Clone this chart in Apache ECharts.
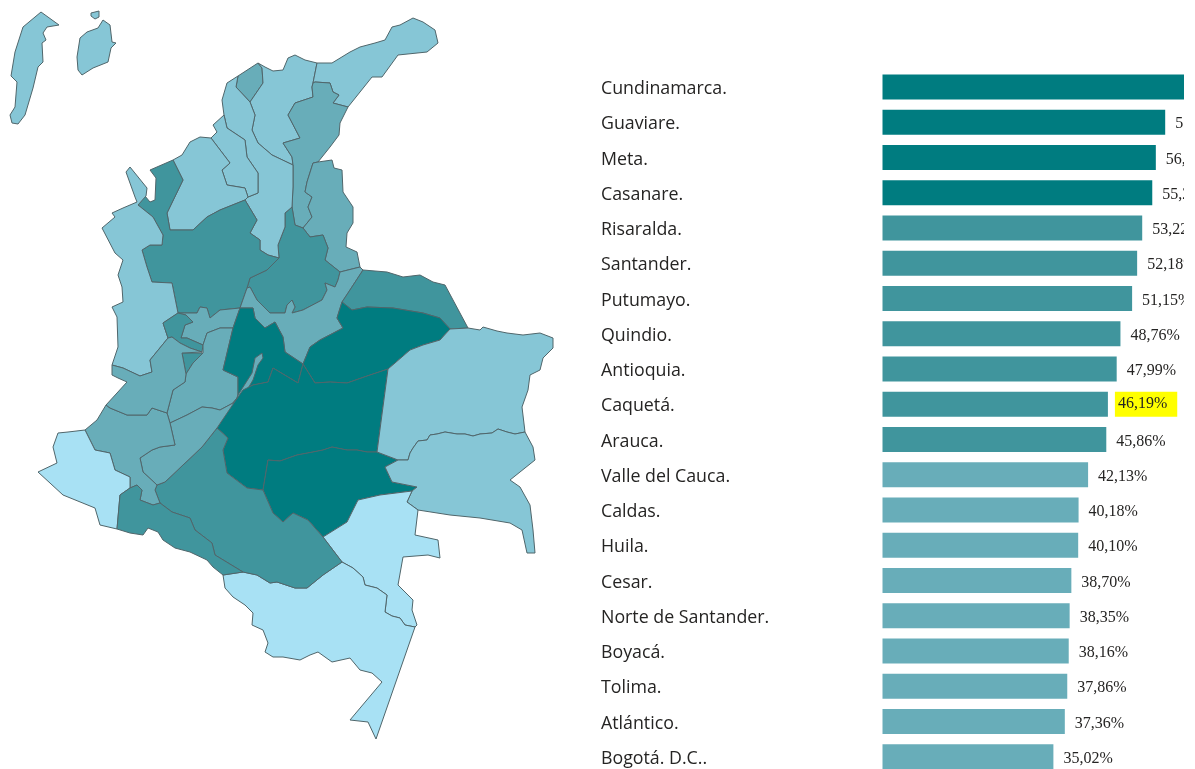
<!DOCTYPE html>
<html>
<head>
<meta charset="utf-8">
<title>Colombia</title>
<script src="https://cdn.jsdelivr.net/npm/echarts@6/dist/echarts.min.js"></script>
<style>
  html, body { margin: 0; background: #fff; }
  #main { width: 1184px; height: 769px; }
</style>
</head>
<body>
<div id="main"></div>
<script>
const categories = ['Cundinamarca.', 'Guaviare.', 'Meta.', 'Casanare.', 'Risaralda.', 'Santander.', 'Putumayo.',
  'Quindio.', 'Antioquia.', 'Caquetá.', 'Arauca.', 'Valle del Cauca.', 'Caldas.', 'Huila.', 'Cesar.',
  'Norte de Santander.', 'Boyacá.', 'Tolima.', 'Atlántico.', 'Bogotá. D.C..'];
const values = [64.0, 57.93, 56.01, 55.28, 53.22, 52.18, 51.15, 48.76, 47.99, 46.19, 45.86, 42.13, 40.18, 40.10,
  38.70, 38.35, 38.16, 37.86, 37.36, 35.02];

// departments on the map that the bar list leaves out, values only estimated from their shade
const otherDepts = ['San Andrés', 'Magdalena', 'La Guajira', 'Bolívar', 'Sucre', 'Córdoba', 'Chocó', 'Vichada',
  'Guainía', 'Cauca', 'Nariño', 'Vaupés', 'Amazonas'];
const otherValues = [30, 33, 30, 33, 32, 31, 28, 25, 24, 37, 15, 12, 10];

const highlighted = 'Caquetá.';

// bins of the shared colour scale
const binLimits = [20, 35, 45, 55];
const binColors = ['#a8e1f4', '#86c6d6', '#68adb9', '#40959d', '#007c80'];

// department outlines, in page pixels
const outlines = {
  'San Andrés': [
    [[41,12],[59,25],[47,27],[43,33],[46,40],[42,43],[43,62],[38,67],[33,88],[25,115],[18,124],[12,123],[10,115],[15,107],[17,82],[11,76],[15,52],[23,27]],
    [[103,20],[110,25],[112,42],[116,43],[111,48],[108,62],[93,68],[82,75],[78,70],[77,57],[80,38],[87,32],[98,28]],
    [[91,13],[99,11],[99,17],[95,19],[91,16]]
  ],
  'Atlántico.': [[[258,63],[262,68],[263,83],[250,102],[236,87],[238,76]]],
  'Magdalena': [[[258,63],[265,67],[273,71],[283,70],[288,58],[295,55],[305,60],[317,63],[313,83],[312,87],[313,97],[295,103],[288,115],[300,138],[283,143],[292,157],[293,165],[272,155],[258,143],[252,130],[255,115],[250,102],[263,83],[262,68]]],
  'La Guajira': [[[317,63],[332,63],[350,52],[360,47],[375,43],[385,40],[392,27],[400,25],[413,18],[423,22],[435,30],[438,43],[427,52],[398,55],[382,77],[372,77],[348,107],[333,103],[339,95],[333,92],[330,83],[315,82],[313,83]]],
  'Cesar.': [[[313,83],[315,82],[330,83],[333,92],[339,95],[333,103],[348,107],[340,123],[339,135],[330,147],[318,162],[313,163],[307,182],[305,192],[312,197],[308,207],[312,217],[303,228],[295,225],[292,207],[293,187],[293,165],[292,157],[283,143],[300,138],[288,115],[295,103],[313,97],[312,87]]],
  'Norte de Santander.': [[[318,162],[332,160],[334,168],[342,170],[343,192],[353,207],[353,223],[347,233],[346,247],[357,252],[360,267],[340,272],[325,260],[328,248],[323,235],[310,237],[303,228],[312,217],[308,207],[312,197],[305,192],[307,182],[313,163]]],
  'Santander.': [[[292,207],[295,225],[303,228],[310,237],[323,235],[328,248],[325,260],[340,272],[338,280],[335,287],[325,283],[327,290],[322,300],[303,310],[292,313],[295,307],[292,300],[287,305],[285,313],[270,313],[257,300],[250,287],[247,288],[250,278],[267,270],[279,258],[278,245],[285,227],[285,213]]],
  'Bolívar': [[[238,76],[227,83],[222,100],[224,115],[227,128],[245,140],[247,157],[258,173],[258,193],[248,197],[245,200],[257,220],[250,233],[260,240],[260,250],[268,255],[279,258],[278,245],[285,227],[285,213],[292,207],[293,187],[293,165],[272,155],[258,143],[252,130],[255,115],[250,102],[236,87]]],
  'Sucre': [[[211,138],[217,132],[213,125],[224,115],[227,128],[245,140],[247,157],[258,173],[258,193],[248,197],[245,188],[227,185],[222,170],[230,163]]],
  'Córdoba': [[[173,160],[182,155],[190,142],[200,137],[211,138],[230,163],[222,170],[227,185],[245,188],[248,197],[245,200],[220,210],[207,217],[193,230],[170,230],[167,213],[183,180]]],
  'Antioquia.': [[[173,160],[183,180],[167,213],[170,230],[193,230],[207,217],[220,210],[245,200],[257,220],[250,233],[260,240],[260,250],[268,255],[279,258],[267,270],[250,278],[247,288],[240,308],[220,310],[210,318],[207,308],[200,307],[197,313],[178,313],[172,283],[152,282],[147,267],[142,250],[150,245],[162,245],[163,235],[153,217],[138,205],[145,196],[150,202],[155,200],[156,178],[150,170]]],
  'Chocó': [[[126,172],[130,167],[147,188],[146,196],[138,205],[153,217],[163,235],[162,245],[150,245],[142,250],[147,267],[152,282],[172,283],[178,313],[163,323],[168,338],[150,360],[152,372],[140,376],[123,368],[112,365],[118,347],[117,317],[112,307],[123,302],[122,287],[118,275],[123,260],[115,253],[102,228],[115,217],[112,213],[123,208],[137,202],[135,197]]],
  'Caldas.': [[[178,313],[197,313],[200,307],[207,308],[210,318],[220,310],[240,308],[233,328],[220,328],[207,333],[203,345],[187,338],[181,338],[185,325],[193,322],[186,315]]],
  'Risaralda.': [[[163,323],[178,313],[186,315],[193,322],[185,325],[181,338],[187,338],[203,345],[202,352],[190,348],[180,343],[172,337],[168,338]]],
  'Quindio.': [[[182,353],[203,353],[193,363],[186,374]]],
  'Tolima.': [[[207,333],[220,328],[233,328],[223,370],[238,377],[238,397],[233,403],[220,410],[212,408],[202,407],[187,415],[170,423],[167,413],[173,390],[185,382],[186,374],[193,363],[203,353],[202,352],[203,345]]],
  'Boyacá.': [[[247,288],[250,287],[257,300],[270,313],[285,313],[287,305],[292,300],[295,307],[292,313],[303,310],[322,300],[327,290],[325,283],[335,287],[338,280],[340,272],[360,267],[363,270],[348,293],[342,302],[337,318],[343,328],[320,340],[310,347],[303,364],[285,352],[283,337],[275,322],[265,328],[255,318],[253,308],[240,308]]],
  'Cundinamarca.': [[[240,308],[253,308],[255,318],[265,328],[275,322],[283,337],[285,352],[303,364],[298,383],[273,368],[268,382],[253,385],[243,390],[238,397],[238,377],[223,370],[233,328]]],
  'Bogotá. D.C..': [[[262,353],[263,358],[258,365],[253,380],[247,390],[240,397],[235,402],[238,395],[252,373],[255,358]]],
  'Arauca.': [[[363,270],[387,272],[403,277],[420,275],[433,282],[445,285],[468,328],[450,329],[440,318],[423,313],[393,308],[367,307],[352,310],[342,302],[348,293]]],
  'Casanare.': [[[342,302],[352,310],[367,307],[393,308],[423,313],[440,318],[450,329],[440,340],[423,345],[410,350],[395,363],[388,369],[370,375],[347,383],[330,382],[315,383],[303,364],[310,347],[320,340],[343,328],[337,318]]],
  'Meta.': [[[238,397],[243,390],[253,385],[268,382],[273,368],[298,383],[303,364],[315,383],[330,382],[347,383],[370,375],[388,369],[377,452],[367,452],[357,450],[347,450],[332,447],[323,450],[313,452],[297,455],[280,461],[268,460],[263,490],[247,488],[227,473],[223,450],[228,438],[217,428],[233,403]]],
  'Guaviare.': [[[268,460],[280,461],[297,455],[313,452],[323,450],[332,447],[347,450],[357,450],[367,452],[377,452],[398,460],[385,467],[392,482],[417,487],[412,491],[380,495],[358,500],[347,522],[323,537],[308,520],[293,513],[283,522],[273,513],[263,490]]],
  'Vichada': [[[450,329],[468,328],[480,330],[483,327],[497,331],[507,333],[523,335],[540,333],[553,338],[553,348],[543,358],[540,370],[530,375],[528,390],[522,407],[525,432],[515,434],[507,432],[498,429],[492,433],[480,434],[473,436],[465,434],[457,434],[445,432],[437,434],[430,435],[427,440],[418,441],[413,448],[410,453],[408,460],[398,460],[377,452],[388,369],[395,363],[410,350],[423,345],[440,340]]],
  'Guainía': [[[398,460],[408,460],[410,453],[413,448],[418,441],[427,440],[430,435],[437,434],[445,432],[457,434],[465,434],[473,436],[480,434],[492,433],[498,429],[507,432],[515,434],[525,432],[533,447],[535,460],[510,480],[520,487],[530,505],[533,530],[535,553],[527,553],[522,530],[510,523],[480,518],[450,515],[418,510],[407,502],[412,491],[417,487],[392,482],[385,467]]],
  'Vaupés': [[[358,500],[380,495],[412,491],[407,502],[418,510],[415,535],[438,540],[440,558],[428,555],[403,557],[398,585],[413,600],[412,610],[417,625],[415,627],[405,625],[400,618],[392,616],[385,612],[387,595],[377,588],[365,585],[363,577],[353,568],[342,562],[323,537],[347,522]]],
  'Amazonas': [[[223,575],[243,572],[257,575],[270,583],[277,582],[295,588],[307,588],[323,575],[342,562],[353,568],[363,577],[365,585],[377,588],[387,595],[385,612],[392,616],[400,618],[405,625],[415,627],[376,739],[368,722],[350,720],[382,682],[372,673],[360,670],[350,658],[332,662],[318,652],[310,655],[300,660],[283,657],[273,657],[265,652],[268,643],[263,630],[252,625],[253,613],[245,605],[233,597],[225,588]]],
  'Caquetá.': [[[217,428],[228,438],[223,450],[227,473],[247,488],[263,490],[273,513],[283,522],[293,513],[308,520],[323,537],[342,562],[323,575],[307,588],[295,588],[277,582],[270,583],[257,575],[243,572],[215,555],[212,543],[195,530],[190,518],[172,512],[160,503],[155,490],[157,485],[165,482],[202,447]]],
  'Huila.': [[[170,423],[187,415],[202,407],[212,408],[220,410],[233,403],[238,397],[217,428],[202,447],[165,482],[157,485],[143,472],[140,458],[152,450],[160,447],[175,445]]],
  'Cauca': [[[85,430],[95,450],[110,453],[115,470],[130,477],[130,488],[137,485],[142,490],[140,500],[153,505],[160,503],[155,490],[157,485],[143,472],[140,458],[152,450],[160,447],[175,445],[170,423],[167,413],[152,408],[147,415],[127,415],[110,408],[106,405],[97,420]]],
  'Valle del Cauca.': [[[112,365],[123,368],[140,376],[152,372],[150,360],[168,338],[172,337],[180,343],[190,348],[202,352],[203,353],[182,353],[186,374],[185,382],[173,390],[167,413],[152,408],[147,415],[127,415],[110,408],[106,405],[117,393],[127,382],[118,378],[112,375]]],
  'Nariño': [[[38,472],[57,463],[53,447],[58,433],[68,432],[85,430],[95,450],[110,453],[115,470],[130,477],[130,488],[120,495],[117,529],[100,525],[95,508],[63,495]]],
  'Putumayo.': [[[120,495],[130,488],[137,485],[142,490],[140,500],[153,505],[160,503],[172,512],[190,518],[195,530],[212,543],[215,555],[243,572],[223,575],[213,567],[207,560],[190,552],[175,548],[163,540],[158,532],[148,528],[143,535],[130,533],[117,529]]]
};

function colorFor(v) {
  let i = 0;
  while (i < binLimits.length && v >= binLimits[i]) i++;
  return binColors[i];
}

function formatPct(v) {
  return v.toFixed(2).replace('.', ',') + '%';
}

const features = Object.keys(outlines).map((name) => ({
  type: 'Feature',
  properties: { name: name },
  geometry: { type: 'MultiPolygon', coordinates: outlines[name].map((ring) => [ring]) }
}));
echarts.registerMap('colombia', { type: 'FeatureCollection', features: features });

const allPoints = Object.values(outlines).flat(2);
const xs = allPoints.map((p) => p[0]);
const ys = allPoints.map((p) => p[1]);
const minX = Math.min(...xs), maxX = Math.max(...xs);
const minY = Math.min(...ys), maxY = Math.max(...ys);

const mapData = categories.map((c, i) => ({ name: c, value: values[i] }))
  .concat(otherDepts.map((c, i) => ({ name: c, value: otherValues[i] })))
  .map((d) => ({ ...d, itemStyle: { areaColor: colorFor(d.value) } }));

const barData = values.map((v, i) => {
  const item = { value: v, itemStyle: { color: colorFor(v) } };
  if (categories[i] === highlighted) {
    item.label = { backgroundColor: '#ffff00', padding: [6, 10, 3, 3], distance: 7, offset: [0, 0] };
  }
  return item;
});

const chart = echarts.init(document.getElementById('main'));
chart.setOption({
  animation: false,
  backgroundColor: '#fff',
  grid: { left: 882.5, top: 69.4, width: 341.6, height: 705, outerBoundsMode: 'none' },
  xAxis: { type: 'value', min: 0, max: 70, show: false },
  yAxis: {
    type: 'category',
    inverse: true,
    data: categories,
    axisLine: { show: false },
    axisTick: { show: false },
    axisLabel: {
      align: 'left',
      margin: 281.5,
      // top aligned with a tiny line height pushes the text 2px under the bar centre
      verticalAlign: 'top',
      lineHeight: 4,
      color: '#252423',
      fontFamily: 'Open Sans',
      fontSize: 17.8
    }
  },
  series: [
    {
      type: 'map',
      map: 'colombia',
      projection: { project: (p) => p, unproject: (p) => p },
      left: minX,
      top: minY,
      width: maxX - minX,
      height: maxY - minY,
      silent: true,
      selectedMode: false,
      label: { show: false },
      itemStyle: { borderColor: '#50666b', borderWidth: 1 },
      data: mapData
    },
    {
      type: 'bar',
      barWidth: 25,
      silent: true,
      data: barData,
      label: {
        show: true,
        position: 'right',
        distance: 10,
        offset: [0, 2],
        color: '#252423',
        fontFamily: 'Liberation Serif',
        fontSize: 16,
        formatter: (p) => formatPct(p.value)
      }
    }
  ]
});
</script>
</body>
</html>
